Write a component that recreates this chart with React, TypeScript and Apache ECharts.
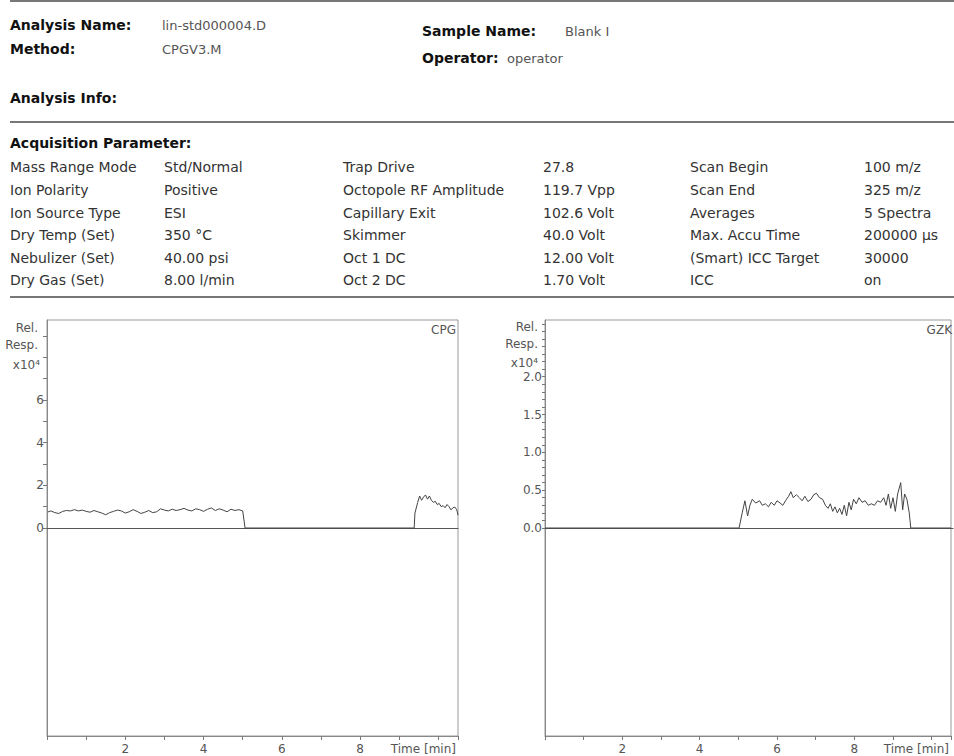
import React, { useEffect, useRef } from "react";
import * as echarts from "echarts";

// ---- Header info ----
const headerLeftLabels = ["Analysis Name:", "Method:"];
const headerLeftValues = ["lin-std000004.D", "CPGV3.M"];
const headerRightLabels = ["Sample Name:", "Operator:"];
const headerRightValues = ["Blank I", "operator"];

// ---- Acquisition parameters ----
const acqLabels1 = ["Mass Range Mode", "Ion Polarity", "Ion Source Type", "Dry Temp (Set)", "Nebulizer (Set)", "Dry Gas (Set)"];
const acqValues1 = ["Std/Normal", "Positive", "ESI", "350 °C", "40.00 psi", "8.00 l/min"];
const acqLabels2 = ["Trap Drive", "Octopole RF Amplitude", "Capillary Exit", "Skimmer", "Oct 1 DC", "Oct 2 DC"];
const acqValues2 = ["27.8", "119.7 Vpp", "102.6 Volt", "40.0 Volt", "12.00 Volt", "1.70 Volt"];
const acqLabels3 = ["Scan Begin", "Scan End", "Averages", "Max. Accu Time", "(Smart) ICC Target", "ICC"];
const acqValues3 = ["100 m/z", "325 m/z", "5 Spectra", "200000 µs", "30000", "on"];

// ---- Chromatogram CPG (time [min], Rel. Resp x10^4) ----
const cpgTime = [
  0.02, 0.1, 0.2, 0.3, 0.4, 0.5, 0.6, 0.7, 0.8, 0.9, 1.0, 1.1, 1.2, 1.3, 1.4, 1.5, 1.6, 1.7, 1.8, 1.9,
  2.0, 2.1, 2.2, 2.3, 2.4, 2.5, 2.6, 2.7, 2.8, 2.9, 3.0, 3.1, 3.2, 3.3, 3.4, 3.5, 3.6, 3.7, 3.8, 3.9,
  4.0, 4.1, 4.2, 4.3, 4.4, 4.5, 4.6, 4.7, 4.8, 4.9, 5.0, 5.06, 9.38, 9.4, 9.47, 9.52, 9.57, 9.62, 9.67,
  9.72, 9.77, 9.82, 9.87, 9.92, 9.97, 10.02, 10.07, 10.12, 10.17, 10.22, 10.27, 10.32, 10.37, 10.42,
  10.47, 10.5,
];
const cpgResp = [
  0.75, 0.8, 0.72, 0.68, 0.78, 0.82, 0.8, 0.86, 0.8, 0.84, 0.78, 0.74, 0.82, 0.76, 0.7, 0.62, 0.72, 0.78, 0.84, 0.8,
  0.7, 0.76, 0.86, 0.78, 0.68, 0.74, 0.82, 0.72, 0.76, 0.9, 0.84, 0.8, 0.88, 0.82, 0.86, 0.92, 0.84, 0.8, 0.9, 0.86,
  0.78, 0.88, 0.94, 0.82, 0.9, 0.84, 0.76, 0.88, 0.82, 0.86, 0.8, 0.0, 0.0, 0.7, 1.2, 1.5, 1.3, 1.45, 1.55,
  1.35, 1.5, 1.3, 1.2, 1.25, 1.1, 1.15, 1.0, 1.05, 0.95, 1.1, 1.0, 0.85, 0.95, 0.98,
  0.85, 0.6,
];

// ---- Chromatogram GZK ----
const gzkTime = [
  0.0, 5.02, 5.1, 5.17, 5.24, 5.3, 5.36, 5.45, 5.55, 5.62, 5.7, 5.78, 5.85, 5.93, 6.0, 6.08, 6.15, 6.22,
  6.3, 6.36, 6.42, 6.5, 6.58, 6.65, 6.72, 6.8, 6.88, 6.95, 7.02, 7.1, 7.18, 7.25, 7.32, 7.38, 7.44, 7.5,
  7.56, 7.62, 7.68, 7.74, 7.8, 7.86, 7.92, 7.98, 8.05, 8.12, 8.2, 8.28, 8.36, 8.44, 8.52, 8.6, 8.68, 8.76,
  8.82, 8.88, 8.94, 9.0, 9.06, 9.12, 9.2, 9.25, 9.3, 9.36, 9.42, 9.46, 10.5,
];
const gzkResp = [
  0.0, 0.0, 0.2, 0.36, 0.16, 0.3, 0.38, 0.33, 0.36, 0.3, 0.32, 0.28, 0.34, 0.3, 0.36, 0.33, 0.3, 0.36,
  0.42, 0.48, 0.4, 0.44, 0.4, 0.36, 0.42, 0.35, 0.38, 0.44, 0.46, 0.4, 0.38, 0.3, 0.26, 0.32, 0.22, 0.28,
  0.2, 0.26, 0.18, 0.3, 0.16, 0.34, 0.24, 0.38, 0.32, 0.4, 0.34, 0.36, 0.3, 0.32, 0.3, 0.36, 0.34, 0.4,
  0.3, 0.45, 0.26, 0.4, 0.22, 0.45, 0.6, 0.24, 0.45, 0.38, 0.2, 0.0, 0.0,
];

const xTickLabels = [2, 4, 6, 8];
const cpgYLabels = [0, 2, 4, 6];
const gzkYLabels = [0, 0.5, 1.0, 1.5, 2.0];

const FONT = '"DejaVu Sans"';
const AX_FONT = "DejaVu Sans";
const AX_SIZE = 12;

function zip(a: number[], b: number[]) {
  return a.map((v, i) => [v, b[i]]);
}

export default function App() {
  const ref = useRef<HTMLDivElement>(null);
  useEffect(() => {
    if (!ref.current) return;
    const chart = echarts.init(ref.current, null, { renderer: "svg" });

    const txt = (text: string, x: number, y: number, bold = false, fill = "#333", size = 14, align = "left") => ({
      type: "text",
      style: {
        text,
        x,
        y,
        font: `${bold ? "bold " : ""}${size}px ${FONT}`,
        fill,
        align,
        verticalAlign: "middle",
      },
    });
    const small = (text: string, x: number, y: number, align = "right") => ({
      type: "text",
      style: { text, x, y, font: `${AX_SIZE}px "${AX_FONT}"`, fill: "#555", align, verticalAlign: "middle" },
    });

    const rowsY = [167, 190, 213, 235, 258, 280];
    const graphics: any[] = [];
    // separator lines
    [1, 122, 297].forEach((y) =>
      graphics.push({ type: "line", shape: { x1: 10, y1: y, x2: 954, y2: y }, style: { stroke: "#777", lineWidth: 2 } })
    );
    headerLeftLabels.forEach((t, i) => graphics.push(txt(t, 10, [25, 49][i], true, "#111")));
    headerLeftValues.forEach((t, i) => graphics.push(txt(t, 162, [25, 49][i], false, "#555", 13)));
    graphics.push(txt(headerRightLabels[0], 422, 31, true, "#111"));
    graphics.push(txt(headerRightValues[0], 565, 31, false, "#555", 13));
    graphics.push(txt(headerRightLabels[1], 422, 58, true, "#111"));
    graphics.push(txt(headerRightValues[1], 507, 58, false, "#555", 13));
    graphics.push(txt("Analysis Info:", 10, 98, true, "#111"));
    graphics.push(txt("Acquisition Parameter:", 10, 143, true, "#111"));
    const cols: [string[], number][] = [
      [acqLabels1, 10],
      [acqValues1, 164],
      [acqLabels2, 343],
      [acqValues2, 543],
      [acqLabels3, 690],
      [acqValues3, 864],
    ];
    cols.forEach(([arr, x]) => arr.forEach((t, i) => graphics.push(txt(t, x, rowsY[i]))));

    // chart annotations
    graphics.push(small("Rel.", 38, 328));
    graphics.push(small("Resp.", 38, 345));
    graphics.push(small("x10⁴", 40, 365));
    graphics.push(small("CPG", 456, 330));
    graphics.push(small("Rel.", 538, 327));
    graphics.push(small("Resp.", 538, 344));
    graphics.push(small("x10⁴", 538, 363));
    graphics.push(small("GZK", 952, 330));

    const axisLabelStyle = { fontFamily: AX_FONT, fontSize: AX_SIZE, color: "#555" };

    const mainX = (gridIndex: number) => ({
      type: "value",
      gridIndex,
      min: 0,
      max: 10.5,
      interval: 1,
      position: "bottom",
      axisLine: { show: true, onZero: false, lineStyle: { color: "#888" } },
      axisTick: { show: true, length: 4, lineStyle: { color: "#777" } },
      axisLabel: {
        ...axisLabelStyle,
        margin: 7,
        showMinLabel: true,
        showMaxLabel: true,
        formatter: (v: number) => (xTickLabels.includes(Math.round(v * 10) / 10) ? String(v) : ""),
      },
      splitLine: { show: false },
      name: "Time [min]",
      nameLocation: "end",
      nameGap: 0,
      nameTextStyle: { ...axisLabelStyle, align: "right", verticalAlign: "top", padding: [7, 2, 0, 0] },
    });
    const zeroX = (gridIndex: number) => ({
      type: "value",
      gridIndex,
      min: 0,
      max: 10.5,
      position: "bottom",
      axisLine: { show: true, onZero: false, lineStyle: { color: "#555", width: 1.2 } },
      axisTick: { show: false },
      axisLabel: { show: false },
      splitLine: { show: false },
    });
    const mainY = (gridIndex: number, lim: number) => ({
      type: "value",
      gridIndex,
      min: -lim,
      max: lim,
      axisLine: { show: true, onZero: false, lineStyle: { color: "#888" } },
      axisTick: { show: false },
      axisLabel: { show: false },
      splitLine: { show: false },
    });
    const helperY = (gridIndex: number, lim: number, interval: number, labels: number[], dec: number, len: number) => ({
      type: "value",
      gridIndex,
      min: 0,
      max: lim,
      interval,
      axisLine: { show: false },
      axisTick: { show: true, length: len, lineStyle: { color: "#777" } },
      axisLabel: {
        ...axisLabelStyle,
        margin: 3,
        showMaxLabel: false,
        formatter: (v: number) => {
          const r = Math.round(v * 100) / 100;
          return labels.some((l) => Math.abs(l - r) < 1e-6) ? r.toFixed(dec) : "";
        },
      },
      splitLine: { show: false },
    });

    const line = (x: number[], y: number[], idx: number) => ({
      type: "line",
      xAxisIndex: idx,
      yAxisIndex: idx,
      data: zip(x, y),
      showSymbol: false,
      symbol: "none",
      lineStyle: { color: "#444", width: 1 },
      silent: true,
    });

    chart.setOption({
      animation: false,
      backgroundColor: "#fff",
      grid: [
        { left: 47, top: 320, width: 411, height: 416, show: true, borderColor: "#999", borderWidth: 1, backgroundColor: "transparent" },
        { left: 47, top: 320, width: 411, height: 208 },
        { left: 545, top: 320, width: 408, height: 416, show: true, borderColor: "#999", borderWidth: 1, backgroundColor: "transparent" },
        { left: 545, top: 320, width: 408, height: 208 },
      ],
      xAxis: [mainX(0), zeroX(1), mainX(2), zeroX(3)],
      yAxis: [
        mainY(0, 9.75),
        helperY(1, 9.75, 1, cpgYLabels, 0, 4),
        mainY(2, 2.75),
        helperY(3, 2.75, 0.1, gzkYLabels, 1, 3),
      ],
      series: [line(cpgTime, cpgResp, 0), line(gzkTime, gzkResp, 2)],
      graphic: graphics,
    });
    return () => chart.dispose();
  }, []);
  return <div ref={ref} style={{ position: "absolute", left: 0, top: 0, width: 954, height: 756 }} />;
}
